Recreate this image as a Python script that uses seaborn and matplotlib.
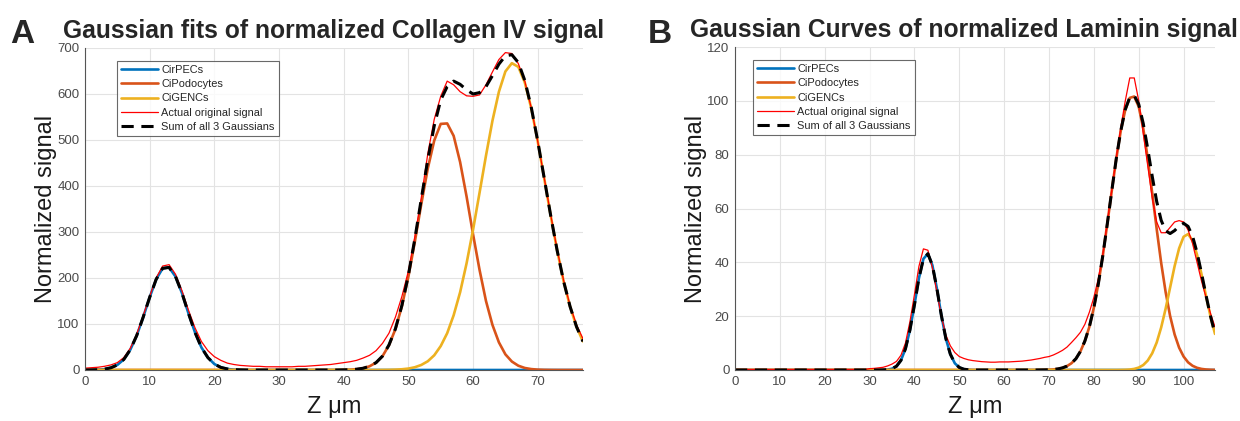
import numpy as np
import pandas as pd
import seaborn as sns
import matplotlib
matplotlib.use("Agg")
import matplotlib.pyplot as plt

# ---------------- Data: panel A (Collagen IV) ----------------
z_A = list(range(0, 78))
cirpecs_A = [0, 0.2, 0.65, 1.8, 4.8, 11, 23, 44, 75, 115, 158, 197, 221, 223, 203, 167, 123, 82, 49, 27,
             13, 5.7, 2.3, 0.8, 0.3] + [0] * 53
cipodo_A = [0] * 40 + [0.3, 0.7, 1.7, 3.8, 8.1, 16, 30, 54, 89, 139,
                       203, 279, 361, 438, 499, 535, 536, 509, 452, 377,
                       295, 218, 150, 98, 60, 34, 18.4, 9.3, 4.4, 2,
                       0.8, 0.3, 0.1, 0, 0, 0, 0, 0]
cigenc_A = [0] * 46 + [0.15, 0.35, 0.8, 1.6,
                       3.1, 6, 11, 19, 32, 52, 80, 119, 169, 232,
                       305, 385, 466, 542, 605, 649, 667, 659, 625, 569,
                       497, 417, 336, 260, 193, 138, 94, 62]
actual_A = [4, 5, 6, 8, 11, 16, 27, 47, 78, 118, 160, 200, 226, 229, 208, 172, 130, 92, 62, 42,
            29, 21, 15, 12, 10, 9, 8, 8, 7, 7, 7, 7, 7, 8, 8, 9, 10, 11, 12, 14,
            16, 18, 21, 26, 32, 42, 58, 80, 115, 160, 215, 290, 375, 470, 545, 595, 628, 620, 605, 596,
            595, 598, 620, 648, 675, 690, 688, 666, 628, 570, 497, 418, 338, 262, 195, 140, 98, 68]
sum_A = [0, 0.2, 0.65, 1.8, 4.8, 11, 23, 44, 75, 115, 158, 197, 221, 223, 203, 167, 123, 82, 49, 27,
         13, 5.7, 2.3, 0.8, 0.3] + [0] * 15 + [0.3, 0.7, 1.7, 3.8, 8.1, 16, 30.2, 54.4, 89.8, 140.6,
         206.1, 285, 372, 457, 531, 587, 616, 628, 621, 609,
         600, 603, 616, 640, 665, 683, 685.4, 668.3, 629.4, 571,
         497.8, 417.3, 336.1, 260, 193, 138, 94, 62]

# ---------------- Data: panel B (Laminin) ----------------
z_B = list(range(0, 108))
cirpecs_B = [0] * 33 + [0.04, 0.14, 0.48, 1.4, 3.6, 7.9, 14.9, 24.2, 34.1, 41.3, 43.2, 38.9, 30.3, 20.3,
                        11.7, 5.9, 2.5, 0.94, 0.3, 0.09] + [0] * 55
cipodo_B = [0] * 68 + [0.02, 0.05, 0.1, 0.21, 0.41, 0.78, 1.44, 2.5, 4.2, 6.9, 10.8, 16.1,
                       23.2, 32.1, 42.6, 54.4, 66.7, 78.6, 88.9, 96.7, 101.1, 101.6,
                       97.8, 89.8, 78.7, 65.8, 52.4, 39.8, 28.9, 20.0, 13.2, 8.3,
                       5.0, 2.85, 1.56, 0.81, 0.4, 0.19, 0.09, 0.04]
cigenc_B = [0] * 86 + [0.03, 0.07, 0.17, 0.41, 0.9, 1.83, 3.5, 6.2, 10.2, 15.8, 22.8, 30.7,
                       38.6, 45.2, 49.5, 50.5, 48.1, 42.8, 35.5, 27.5, 19.9, 13.4]
actual_B = [0.2] * 30 + [0.5, 0.6, 0.8, 1.0, 1.5, 2.2, 3.2, 5.5, 10, 18,
                         28, 38.5, 45, 44.5, 38, 29, 20, 13, 9, 6.5,
                         5, 4.3, 3.8, 3.5, 3.3, 3.1, 3.0, 2.9, 2.9, 3.0,
                         3.0, 3.0, 3.1, 3.2, 3.3, 3.5, 3.7, 4.0, 4.3, 4.7,
                         5.0, 5.6, 6.4, 7.3, 8.5, 10.2, 12, 14, 17, 21.5,
                         27, 34, 43, 55, 67, 79, 90, 100, 108.5, 108.5,
                         100, 88, 76, 64, 55, 51, 51, 53, 55, 55.5,
                         55, 52, 47, 40, 33, 27, 21, 16]
sum_B = [0] * 33 + [0.04, 0.14, 0.48, 1.4, 3.6, 7.9, 14.9, 24.2, 34.1, 41.3, 43.2, 38.9, 30.3, 20.3,
                    11.7, 5.9, 2.5, 0.94, 0.3, 0.09] + [0] * 15 + [
    0.02, 0.05, 0.1, 0.21, 0.41, 0.78, 1.44, 2.5, 4.2, 6.9, 10.8, 16.1,
    23.2, 32.1, 42.6, 54.4, 66.7, 78.6, 88.9, 96.8, 101.3, 102.0,
    98.7, 91.6, 82.2, 72.0, 62.6, 55.6, 51.7, 50.7, 51.8, 53.5,
    54.5, 53.35, 49.7, 43.6, 35.9, 27.7, 20.0, 13.4]

labels = ["CirPECs", "CiPodocytes", "CiGENCs", "Actual original signal", "Sum of all 3 Gaussians"]
colors = ["#0072BD", "#D95319", "#EDB120", "#FF0000", "#000000"]

sns.set_style("white")
plt.rcParams['font.family'] = ['Liberation Sans', 'DejaVu Sans']

fig = plt.figure(figsize=(12.4, 4.21), dpi=100)
axA = fig.add_axes([85 / 1240, 51 / 421, 498 / 1240, 322 / 421])
axB = fig.add_axes([735 / 1240, 51 / 421, 480 / 1240, 323 / 421])


def draw(ax, z, series, xmax, ymax, xstep, ystep, title, title_x, legx):
    for i, (ys, lab, col) in enumerate(zip(series, labels, colors)):
        df = pd.DataFrame({"z": z, "v": ys})
        if i < 3:
            kw = dict(lw=1.9)
        elif i == 3:
            kw = dict(lw=0.9)
        else:
            kw = dict(lw=2.2, linestyle=(0, (4, 2.5)))
        sns.lineplot(data=df, x="z", y="v", ax=ax, color=col, label=lab, sort=False,
                     errorbar=None, **kw)
    ax.set_xlim(0, xmax)
    ax.set_ylim(0, ymax)
    ax.set_xticks(np.arange(0, xmax + 0.1, xstep))
    ax.set_yticks(np.arange(0, ymax + 0.1, ystep))
    ax.grid(True, color="#e3e3e3", lw=0.8)
    ax.set_axisbelow(True)
    for s in ["top", "right"]:
        ax.spines[s].set_visible(False)
    for s in ["left", "bottom"]:
        ax.spines[s].set_color("#555555")
        ax.spines[s].set_linewidth(0.8)
    ax.tick_params(direction="in", length=3, colors="#555555", labelsize=9.5, width=0.7,
                   labelcolor="#4a4a4a", pad=4)
    ax.set_xlabel("Z μm", fontsize=17, color="#1a1a1a", labelpad=6)
    ax.set_ylabel("Normalized signal", fontsize=17, color="#1a1a1a", labelpad=0)
    ax.set_title(title, fontsize=17.7, fontweight="bold", pad=7, x=title_x)
    leg = ax.legend(loc="upper left", bbox_to_anchor=(legx, 0.96), fontsize=7.9, frameon=True,
                    fancybox=False, edgecolor="#444444", handlelength=3.4, handletextpad=0.3,
                    labelspacing=0.4, borderpad=0.35, borderaxespad=0)
    leg.get_frame().set_linewidth(0.8)


draw(axA, z_A, [cirpecs_A, cipodo_A, cigenc_A, actual_A, sum_A], 77, 700, 10, 100,
     "Gaussian fits of normalized Collagen IV signal", 0.5, 0.064)
draw(axB, z_B, [cirpecs_B, cipodo_B, cigenc_B, actual_B, sum_B], 107, 120, 10, 20,
     "Gaussian Curves of normalized Laminin signal", 0.477, 0.0375)

fig.text(10 / 1240, 1 - 43 / 421, "A", fontsize=24, fontweight="bold", ha="left", va="baseline")
fig.text(648 / 1240, 1 - 43 / 421, "B", fontsize=24, fontweight="bold", ha="left", va="baseline")

fig.savefig("out.png", dpi=100)
